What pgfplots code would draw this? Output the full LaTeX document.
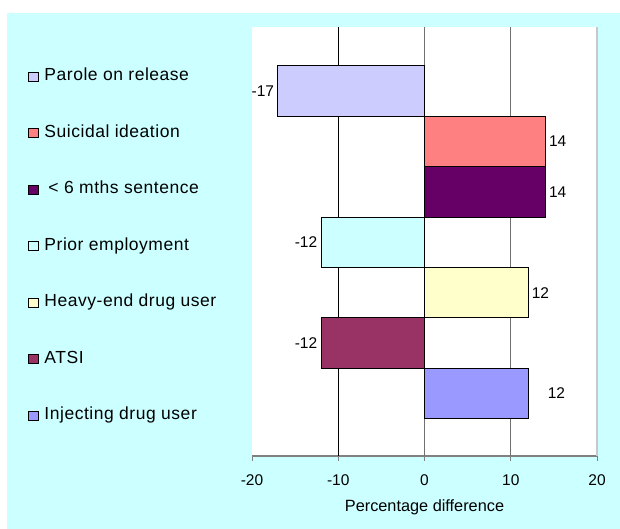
\documentclass[border=0pt]{standalone}
\usepackage{fontspec}
\setmainfont{Liberation Sans}
\usepackage{pgfplots}
\pgfplotsset{compat=1.18}

\definecolor{bgcyan}{HTML}{CCFFFF}
\definecolor{cParole}{HTML}{CCCCFF}
\definecolor{cSuicide}{HTML}{FF8080}
\definecolor{cShort}{HTML}{660066}
\definecolor{cEmploy}{HTML}{CCFFFF}
\definecolor{cHeavy}{HTML}{FFFFCC}
\definecolor{cATSI}{HTML}{993366}
\definecolor{cInject}{HTML}{9999FF}
\definecolor{gridgray}{HTML}{707070}
\definecolor{edgegray}{HTML}{C8C8C8}

\newcommand{\numfont}{\fontsize{15.5}{18}\selectfont}
\newcommand{\labelfont}{\fontsize{16.3}{19}\selectfont}
\newcommand{\legendfont}{\fontsize{17.5}{20}\selectfont\addfontfeature{LetterSpace=3}}

\pgfplotsset{
  hbar/.style={xbar, bar width=1, bar shift=0pt, draw=black, line width=0.9pt,
    point meta=x, nodes near coords,
    nodes near coords style={font=\numfont, text=black}},
  neglabel/.style={every node near coord/.append style={anchor=east}},
  poslabel/.style={every node near coord/.append style={anchor=west}},
}

\begin{document}
\begin{tikzpicture}
\path[use as bounding box] (0,0) rectangle (620pt,529pt);
\fill[white] (0,0) rectangle (620pt,529pt);
\fill[bgcyan] (7pt,0pt) rectangle (620pt,516pt);
\begin{axis}[
  at={(252pt,73pt)}, anchor=south west,
  scale only axis, width=345pt, height=429pt,
  xmin=-20, xmax=20, ymin=-0.24, ymax=8.27,
  /pgf/number format/assume math mode=true,
  axis background/.style={fill=white},
  axis x line*=bottom, axis y line=none,
  x axis line style={draw=gray, line width=1.5pt},
  xtick={-20,-10,0,10,20}, xticklabels={-20,-10,0,10,20},
  ytick=\empty,
  xtick align=outside, major tick length=5pt,
  xtick style={draw=gray, line width=1pt},
  xticklabel style={font=\numfont, yshift=-10pt},
  xlabel={Percentage difference},
  xlabel style={at={(axis description cs:0.5,0)}, anchor=center, yshift=-51pt, font=\labelfont},
  legend style={at={(axis description cs:-0.6493,0.9051)}, anchor=north west,
    draw=none, fill=none, inner sep=0pt, row sep=39.5pt, column sep=6pt,
    font=\legendfont,
    nodes={inner sep=0pt, text height=13pt, text depth=4pt}},
  legend cell align=left,
  legend image code/.code={\draw[#1, draw=black, line width=0.8pt] (0pt,-4.5pt) rectangle (9.5pt,4.5pt);},
  clip=false,
]
% vertical gridlines behind the bars
\draw[black, line width=0.8pt] (axis cs:-10,-0.24) -- (axis cs:-10,8.27);
\draw[gridgray, line width=1.3pt] (axis cs:0,-0.24) -- (axis cs:0,8.27);
\draw[gridgray, line width=1.3pt] (axis cs:10,-0.24) -- (axis cs:10,8.27);
\draw[edgegray, line width=1.5pt] (axis cs:20,-0.24) -- (axis cs:20,8.27);

\addplot[hbar, neglabel, fill=cParole] coordinates {(-17,7)};
\addlegendentry{Parole on release}
\addplot[hbar, poslabel, fill=cSuicide] coordinates {(14,6)};
\addlegendentry{Suicidal ideation}
\addplot[hbar, poslabel, fill=cShort] coordinates {(14,5)};
\addlegendentry{\hspace{4pt}< 6 mths sentence}
\addplot[hbar, neglabel, fill=cEmploy] coordinates {(-12,4)};
\addlegendentry{Prior employment}
\addplot[hbar, poslabel, fill=cHeavy] coordinates {(12,3)};
\addlegendentry{Heavy-end drug user}
\addplot[hbar, neglabel, fill=cATSI] coordinates {(-12,2)};
\addlegendentry{ATSI}
\addplot[hbar, poslabel, fill=cInject,
  every node near coord/.append style={xshift=16pt}] coordinates {(12,1)};
\addlegendentry{Injecting drug user}
\end{axis}
\end{tikzpicture}
\end{document}
